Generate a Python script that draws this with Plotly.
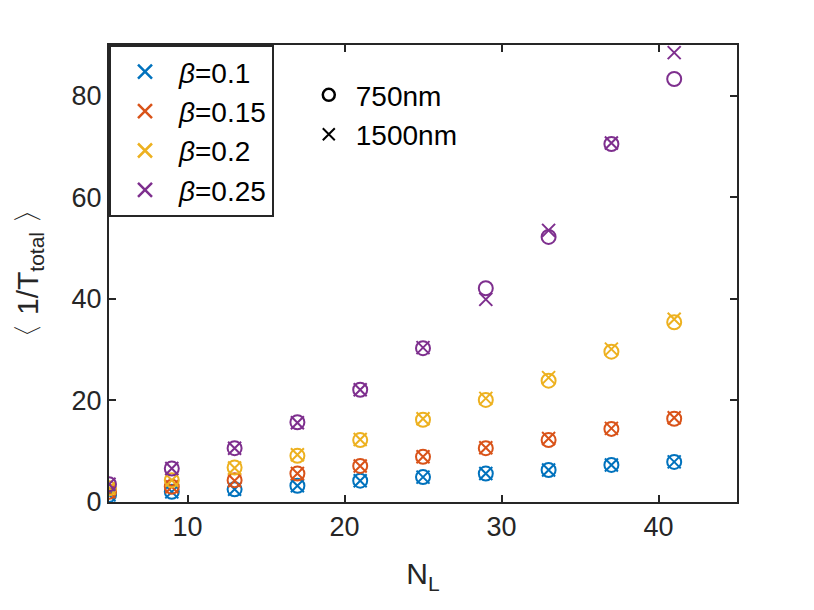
import plotly.graph_objects as go

# data
n_l = [5, 9, 13, 17, 21, 25, 29, 33, 37, 41]
betas = ["0.1", "0.15", "0.2", "0.25"]
colors = ["#0072BD", "#D95319", "#EDB120", "#7E2F8E"]

t750 = [
    [1.4, 2.0, 2.5, 3.2, 4.2, 4.9, 5.6, 6.3, 7.3, 7.9],
    [2.0, 3.0, 4.3, 5.6, 7.1, 8.9, 10.6, 12.2, 14.4, 16.4],
    [2.7, 4.3, 6.8, 9.1, 12.2, 16.2, 20.1, 23.9, 29.6, 35.4],
    [3.5, 6.6, 10.6, 15.7, 22.1, 30.3, 42.1, 52.2, 70.5, 83.3],
]
t1500 = [
    [1.4, 2.0, 2.5, 3.2, 4.2, 4.9, 5.6, 6.3, 7.3, 7.9],
    [2.0, 3.0, 4.2, 5.6, 7.1, 8.9, 10.7, 12.5, 14.5, 16.6],
    [2.7, 4.3, 6.7, 9.3, 12.3, 16.4, 20.4, 24.5, 30.1, 36.0],
    [3.5, 6.6, 10.6, 15.6, 22.1, 30.4, 39.9, 53.5, 70.7, 88.5],
]

FONT = "Liberation Sans, Arial, sans-serif"
AX = "#262626"

fig = go.Figure()

for b, c, y750, y1500 in zip(betas, colors, t750, t1500):
    fig.add_trace(go.Scatter(
        x=n_l, y=y750, mode="markers", showlegend=False,
        marker=dict(symbol="circle-open", size=14, color=c, line=dict(width=2, color=c)),
    ))
    fig.add_trace(go.Scatter(
        x=n_l, y=y1500, mode="markers", showlegend=False,
        marker=dict(symbol="x-thin", size=13, color=c, line=dict(width=2, color=c)),
    ))

# legend 1: beta colours
for b, c in zip(betas, colors):
    fig.add_trace(go.Scatter(
        x=[None], y=[None], mode="markers", name=f"<i>β</i>=" + b, legend="legend",
        marker=dict(symbol="x-thin", size=14, color=c, line=dict(width=2.5, color=c)),
    ))

# legend 2: wavelengths
fig.add_trace(go.Scatter(
    x=[None], y=[None], mode="markers", name="750nm", legend="legend2",
    marker=dict(symbol="circle-open", size=12, color="black", line=dict(width=2.5, color="black")),
))
fig.add_trace(go.Scatter(
    x=[None], y=[None], mode="markers", name="1500nm", legend="legend2",
    marker=dict(symbol="x-thin", size=12, color="black", line=dict(width=2, color="black")),
))

axis_common = dict(
    showline=True, linewidth=2, linecolor=AX, mirror="ticks",
    ticks="inside", ticklen=7, tickwidth=2, tickcolor=AX,
    showgrid=False, zeroline=False,
    tickfont=dict(family=FONT, size=27, color=AX),
)

fig.update_layout(
    width=814, height=610,
    margin=dict(l=101, r=85, t=37, b=116),
    paper_bgcolor="white", plot_bgcolor="white",
    font=dict(family=FONT, color=AX),
    xaxis=dict(
        range=[5, 45], tickvals=[10, 20, 30, 40],
        title=dict(text="N<sub>L</sub>", font=dict(family=FONT, size=30, color=AX), standoff=22),
        **axis_common,
    ),
    yaxis=dict(
        range=[0, 90], tickvals=[0, 20, 40, 60, 80],
        title=dict(text="〈 1/T<sub>total</sub> 〉", font=dict(family=FONT, size=30, color=AX), standoff=24),
        **axis_common,
    ),
    legend=dict(
        x=0.0, y=1.0, xanchor="left", yanchor="top",
        bgcolor="white", bordercolor=AX, borderwidth=2,
        font=dict(family=FONT, size=28, color="black"),
        itemwidth=58,
    ),
    legend2=dict(
        x=0.307, y=0.945, xanchor="left", yanchor="top",
        bgcolor="rgba(0,0,0,0)", borderwidth=0,
        font=dict(family=FONT, size=28, color="black"),
        itemwidth=44,
    ),
)

fig.write_html("out.html")
